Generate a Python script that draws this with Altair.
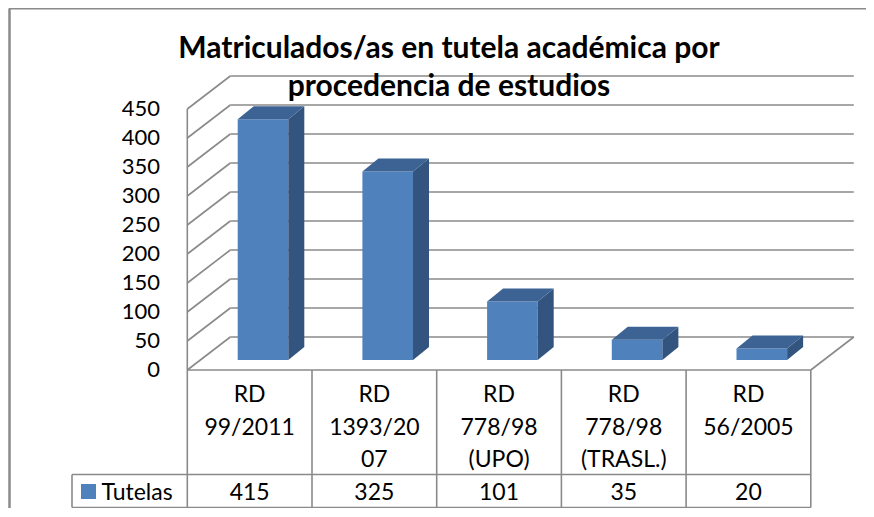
import altair as alt
import pandas as pd

# ---------------- data ----------------
CATEGORIES = ["RD\n99/2011", "RD\n1393/20\n07", "RD\n778/98\n(UPO)", "RD\n778/98\n(TRASL.)", "RD\n56/2005"]
VALUES = [415, 325, 101, 35, 20]
SERIES = "Tutelas"
Y_TICKS = [0, 50, 100, 150, 200, 250, 300, 350, 400, 450]
TITLE_LINES = ["Matriculados/as en tutela académica por", "procedencia de estudios"]

# ---------------- geometry (pixels of the page) ----------------
M = 8                      # page margin
W, H = 858, 500            # drawing size (fits the 874x517 window with margins)
X0, KX = 187.3, 124.7      # front-left edge x, px per category
Y0, KY = 370.0, 0.58       # front zero line y, px per unit


def u_of(px):
    return (px - X0) / KX


def w_of(py):
    return (Y0 - py) / KY


XDOM = [u_of(M), u_of(M + W)]
YDOM = [w_of(M + H), w_of(M)]
DU, DW = 43 / KX, 33 / KY            # floor depth
BAR_W = 50.6 / KX
BAR_FU, BAR_FW = 13.35 / KX, 10 / KY  # bar front face offset into the floor
BAR_DU, BAR_DW = 16 / KX, 13 / KY     # bar depth
N = len(VALUES)
YMAX = Y_TICKS[-1]

W_ROW = w_of(474.5)
W_BOT = w_of(507.5)
U_LEG = u_of(72)

FONT = "Lato"
GRID = "#8a8a8a"
FRONT, TOP, SIDE = "#4f81bd", "#3c6393", "#32547f"

xs = alt.Scale(domain=XDOM, nice=False, zero=False)
ys = alt.Scale(domain=YDOM, nice=False, zero=False)


def seg_layer(df, color=GRID, width=1.6):
    return alt.Chart(df).mark_rule(color=color, strokeWidth=width).encode(
        x=alt.X("x:Q", scale=xs, axis=None),
        x2="x2",
        y=alt.Y("y:Q", scale=ys, axis=None),
        y2="y2",
    )


# back wall grid lines
back = pd.DataFrame({"x": DU, "x2": N + DU,
                     "y": [t + DW for t in Y_TICKS], "y2": [t + DW for t in Y_TICKS]})
# left wall diagonals
diag = pd.DataFrame({"x": 0.0, "x2": DU, "y": Y_TICKS, "y2": [t + DW for t in Y_TICKS]})
# wall / floor edges
edges = pd.DataFrame({
    "x":  [0.0, N, 0.0],
    "x2": [0.0, N + DU, N],
    "y":  [0.0, 0.0, 0.0],
    "y2": [YMAX, DW, 0.0],
})
# data table lines
cols = pd.DataFrame({"x": [float(i) for i in range(N + 1)], "x2": [float(i) for i in range(N + 1)],
                     "y": 0.0, "y2": W_BOT})
rows = pd.DataFrame({"x": [U_LEG, U_LEG, U_LEG], "x2": [N, N, U_LEG],
                     "y": [W_ROW, W_BOT, W_ROW], "y2": [W_ROW, W_BOT, W_BOT]})

# bars
fr = []
side = []
top = []
for i, v in enumerate(VALUES):
    xl = i + 0.5 - BAR_W / 2 + BAR_FU
    xr = xl + BAR_W
    b = BAR_FW
    t = v + BAR_FW
    fr.append({"bar": i, "x": xl, "x2": xr, "y": b, "y2": t})
    side += [{"bar": i, "x": xr, "y": b, "y2": t},
             {"bar": i, "x": xr + BAR_DU, "y": b + BAR_DW, "y2": t + BAR_DW}]
    top += [{"bar": i, "x": xl, "y": t, "y2": t},
            {"bar": i, "x": xl + BAR_DU, "y": t, "y2": t + BAR_DW},
            {"bar": i, "x": xr, "y": t, "y2": t + BAR_DW},
            {"bar": i, "x": xr + BAR_DU, "y": t + BAR_DW, "y2": t + BAR_DW}]

front_layer = alt.Chart(pd.DataFrame(fr)).mark_rect(color=FRONT).encode(
    x=alt.X("x:Q", scale=xs, axis=None), x2="x2",
    y=alt.Y("y:Q", scale=ys, axis=None), y2="y2")


def face(df, color):
    return alt.Chart(pd.DataFrame(df)).mark_area(color=color, orient="vertical").encode(
        x=alt.X("x:Q", scale=xs, axis=None),
        y=alt.Y("y:Q", scale=ys, axis=None, stack=None),
        y2="y2",
        detail="bar:N")


side_layer = face(side, SIDE)
top_layer = face(top, TOP)

# texts
ticks_df = pd.DataFrame({"t": Y_TICKS})
ylabels = alt.Chart(ticks_df).mark_text(align="right", baseline="middle", font=FONT,
                                         fontSize=22, color="black").encode(
    x=alt.value(160 - M), y=alt.Y("t:Q", scale=ys, axis=None), text="t:N")

cat_df = pd.DataFrame({"x": [i + 0.5 for i in range(N)], "label": CATEGORIES, "value": VALUES})
catlabels = alt.Chart(cat_df).mark_text(align="center", baseline="alphabetic", font=FONT,
                                        fontSize=23, color="black", lineBreak="\n",
                                        lineHeight=32.5).encode(
    x=alt.X("x:Q", scale=xs, axis=None), y=alt.value(402 - M), text="label:N")
vallabels = alt.Chart(cat_df).mark_text(align="center", baseline="alphabetic", font=FONT,
                                        fontSize=23, color="black").encode(
    x=alt.X("x:Q", scale=xs, axis=None), y=alt.value(499.5 - M), text="value:N")

leg_df = pd.DataFrame({"s": [SERIES]})
swatch = alt.Chart(leg_df).mark_rect(color=FRONT).encode(
    x=alt.value(81 - M), x2=alt.value(96 - M), y=alt.value(484 - M), y2=alt.value(499 - M))
legtext = alt.Chart(leg_df).mark_text(align="left", baseline="alphabetic", font=FONT,
                                      fontSize=23, color="black").encode(
    x=alt.value(101.5 - M), y=alt.value(499.5 - M), text="s:N")

title_df = pd.DataFrame({"line": TITLE_LINES, "yy": [58 - M, 96 - M]})
title = alt.Chart(title_df).mark_text(align="center", baseline="alphabetic", font=FONT,
                                      fontSize=30, fontWeight="bold", color="black").encode(
    x=alt.value(449 - M), y=alt.Y("yy:Q", scale=None), text="line:N")

border = alt.Chart(leg_df).mark_rule(color="#8a8a8a", strokeWidth=2.5).encode(
    x=alt.value(1.5), x2=alt.value(1.5), y=alt.value(0.5), y2=alt.value(H))
border_top = alt.Chart(leg_df).mark_rule(color="#8a8a8a", strokeWidth=1.5).encode(
    x=alt.value(1), x2=alt.value(W), y=alt.value(0.75), y2=alt.value(0.75))

chart = alt.layer(
    border, border_top,
    seg_layer(back), seg_layer(diag), seg_layer(edges), seg_layer(cols), seg_layer(rows),
    front_layer, side_layer, top_layer,
    ylabels, catlabels, vallabels, swatch, legtext, title,
).properties(
    width=W, height=H,
    autosize=alt.AutoSizeParams(type="none"),
    padding=0,
    background="white",
).configure_view(stroke=None)

chart.save("out.html", embed_options={"renderer": "svg", "actions": False})
